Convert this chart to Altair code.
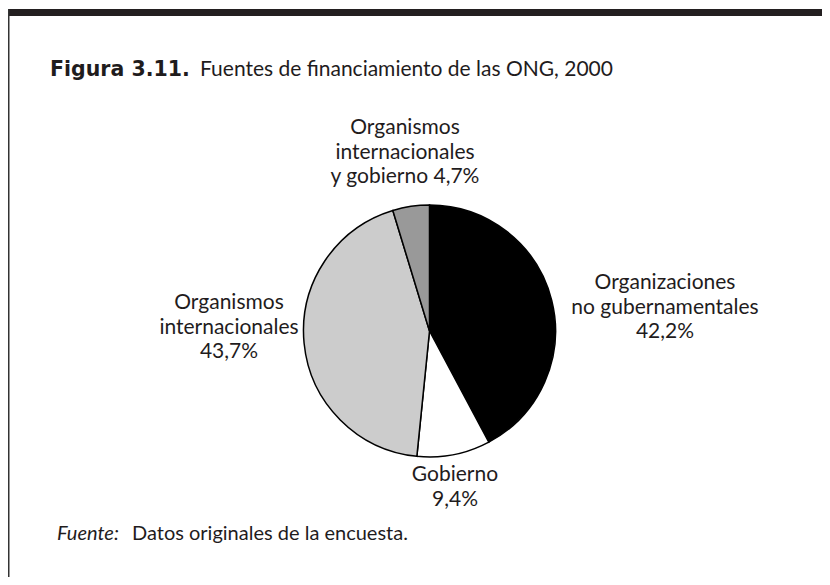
import altair as alt
import pandas as pd

# ---- data ----
categories = [
    "Organizaciones no gubernamentales",
    "Gobierno",
    "Organismos internacionales",
    "Organismos internacionales y gobierno",
]
values = [42.2, 9.4, 43.7, 4.7]
slice_colors = ["#000000", "#ffffff", "#cccccc", "#999999"]
label_texts = [
    "Organizaciones\nno gubernamentales\n42,2%",
    "Gobierno\n9,4%",
    "Organismos\ninternacionales\n43,7%",
    "Organismos\ninternacionales\ny gobierno 4,7%",
]
title_bold = "Figura 3.11."
title_rest = "Fuentes de financiamiento de las ONG, 2000"
source_italic = "Fuente:"
source_rest = "Datos originales de la encuesta."

FONT = "Lato"
W, H = 814, 569
CX, CY, R = 421.5, 323, 126

df = pd.DataFrame({"category": categories, "value": values, "order": list(range(len(values)))})

pie = alt.Chart(df).mark_arc(outerRadius=R, stroke="black", strokeWidth=1.5).encode(
    theta=alt.Theta("value:Q", stack=True),
    color=alt.Color("category:N", scale=alt.Scale(domain=categories, range=slice_colors), legend=None),
    order=alt.Order("order:Q"),
    x=alt.value(CX),
    y=alt.value(CY),
)

label_pos = [(657, 275), (447, 467), (221, 295), (397, 120)]

def text_layer(txt, x, y, size=21, align="center", baseline="middle", weight="normal",
               style="normal", font=FONT):
    return alt.Chart(alt.Data(values=[{"t": txt}])).mark_text(
        font=font, fontSize=size, align=align, baseline=baseline, lineBreak="\n",
        lineHeight=24.5, fontWeight=weight, fontStyle=style, color="#1f1c1d",
    ).encode(text="t:N", x=alt.value(x), y=alt.value(y))

labels = [text_layer(t, x, y) for t, (x, y) in zip(label_texts, label_pos)]

title1 = text_layer(title_bold, 42, 68, size=20.5, align="left", baseline="alphabetic",
                    weight="bold", font="DejaVu Sans")
title2 = text_layer(title_rest, 192, 68, size=21, align="left", baseline="alphabetic")
src1 = text_layer(source_italic, 49, 532, size=20, align="left", baseline="alphabetic", style="italic")
src2 = text_layer(source_rest, 124, 532, size=20, align="left", baseline="alphabetic")

frame_data = alt.Data(values=[{"k": 1}])
top_bar = alt.Chart(frame_data).mark_rect(color="#231f20").encode(
    x=alt.value(0), x2=alt.value(W), y=alt.value(1), y2=alt.value(8)
)
left_line = alt.Chart(frame_data).mark_rect(color="#333333").encode(
    x=alt.value(0), x2=alt.value(1.5), y=alt.value(1), y2=alt.value(H)
)

chart = alt.layer(top_bar, left_line, pie, *labels, title1, title2, src1, src2).properties(
    width=W, height=H, padding=0, autosize="none", background="white"
).configure_view(stroke=None)

chart.save("out.html", embed_options={"renderer": "svg", "actions": False})
